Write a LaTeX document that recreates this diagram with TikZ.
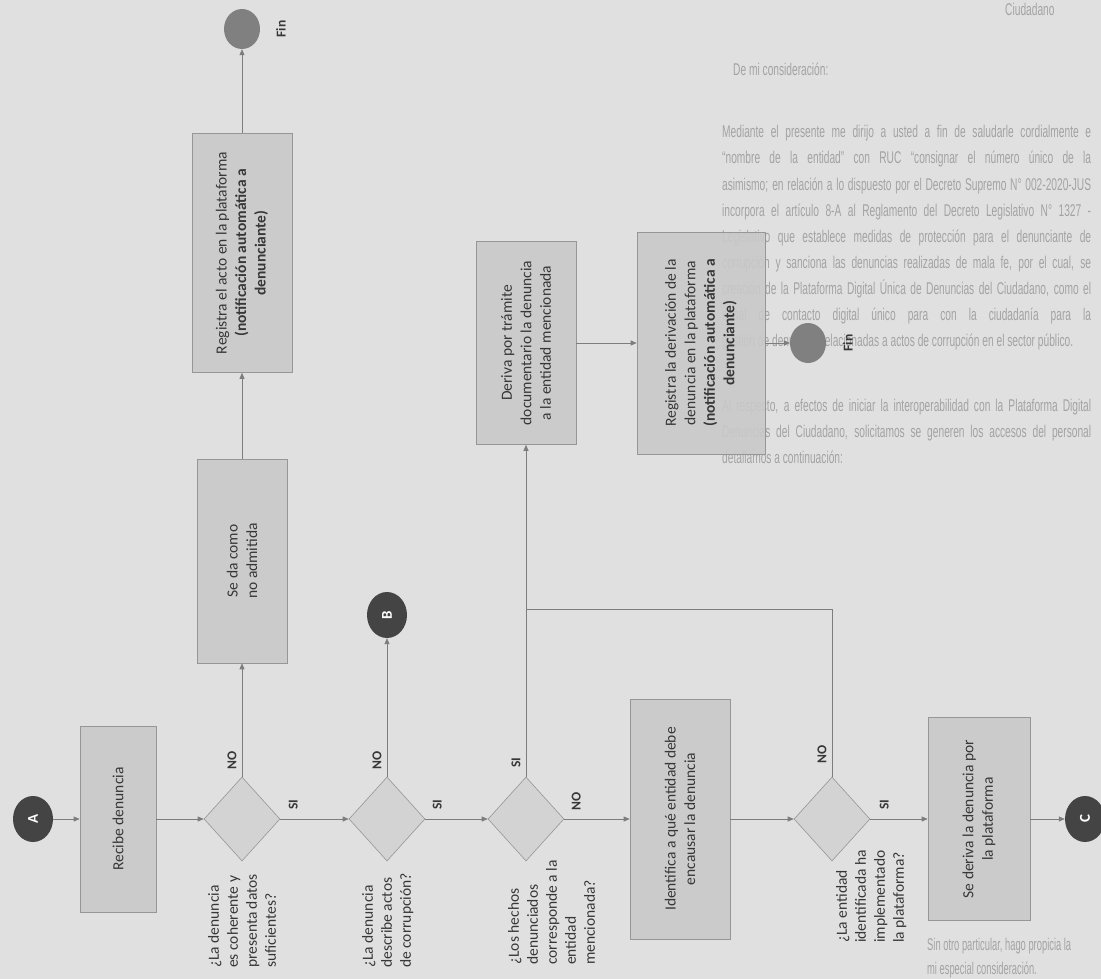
\documentclass[tikz,border=0pt]{standalone}
\usepackage{fontspec}
\setmainfont{Carlito}
\newfontfamily\bgfont{Liberation Sans}
\usetikzlibrary{shapes.geometric,arrows.meta}
\definecolor{paper}{RGB}{224,224,224}
\definecolor{boxfill}{RGB}{201,201,201}
\definecolor{diafill}{RGB}{210,210,210}
\definecolor{edge}{RGB}{150,150,150}
\definecolor{ink}{RGB}{55,55,55}
\definecolor{conn}{RGB}{125,125,125}
\definecolor{dark}{RGB}{68,68,68}
\definecolor{fingray}{RGB}{128,128,128}
\definecolor{bgtext}{RGB}{163,163,163}
\newcommand{\jline}[1]{\scalebox{0.6}[1]{\makebox[615pt][s]{#1}}}
\newcommand{\nline}[1]{\scalebox{0.6}[1]{#1}}
\begin{document}
\begin{tikzpicture}[x=1pt,y=-1pt,
  proc/.style={rectangle, draw=edge, fill=boxfill, fill opacity=0.9, text opacity=1, line width=0.6pt, rotate=90, align=center, text=ink, font=\fontsize{15.5}{19.5}\selectfont, inner sep=2pt},
  dec/.style={diamond, draw=edge, fill=diafill, fill opacity=0.9, line width=0.6pt, minimum width=76pt, minimum height=84pt, inner sep=0pt},
  letter/.style={ellipse, fill=dark, text=white, font=\bfseries\fontsize{15}{15}\selectfont, rotate=90, minimum width=46pt, minimum height=40pt, inner sep=0pt},
  finnode/.style={ellipse, fill=fingray, minimum width=36pt, minimum height=40pt, inner sep=0pt},
  lbl/.style={rotate=90, font=\bfseries\fontsize{13.5}{14}\selectfont, text=ink, inner sep=0pt},
  qtext/.style={rotate=90, align=left, anchor=north west, font=\fontsize{15.5}{19}\selectfont, text=ink, inner sep=0pt},
  arr/.style={draw=conn, line width=0.7pt, -{Triangle[length=6pt,width=5pt]}},
  plain/.style={draw=conn, line width=0.7pt},
  bg/.style={anchor=base west, inner sep=0pt, text=bgtext, font=\bgfont\fontsize{17}{20}\selectfont}
]
\useasboundingbox (0,0) rectangle (1101,979);
\fill[paper] (0,0) rectangle (1101,979);
\clip (0,0) rectangle (1101,979);

% faint letter text showing through the scan
\node[bg] (t1) at (1005,16) {\nline{Ciudadano}};
\node[bg] (t2) at (733,76) {\nline{De mi consideración:}};
\node[bg] (t3) at (722,138) {\jline{Mediante el presente me dirijo a usted a fin de saludarle cordialmente e}};
\node[bg] (t4) at (722,164) {\jline{“nombre de la entidad” con RUC “consignar el número único de la}};
\node[bg] (t5) at (722,190) {\jline{asimismo; en relación a lo dispuesto por el Decreto Supremo N° 002-2020-JUS}};
\node[bg] (t6) at (722,216) {\jline{incorpora el artículo 8-A al Reglamento del Decreto Legislativo N° 1327 -}};
\node[bg] (t7) at (722,242) {\jline{Legislativo que establece medidas de protección para el denunciante de}};
\node[bg] (t8) at (722,268) {\jline{corrupción y sanciona las denuncias realizadas de mala fe, por el cual, se}};
\node[bg] (t9) at (722,294) {\jline{creación de la Plataforma Digital Única de Denuncias del Ciudadano, como el}};
\node[bg] (t10) at (722,320) {\jline{canal de contacto digital único para con la ciudadanía para la}};
\node[bg] (t11) at (722,346) {\nline{gestión de denuncias relacionadas a actos de corrupción en el sector público.}};
\node[bg] (t12) at (722,411) {\jline{Al respecto, a efectos de iniciar la interoperabilidad con la Plataforma Digital}};
\node[bg] (t13) at (722,437) {\jline{Denuncias del Ciudadano, solicitamos se generen los accesos del personal}};
\node[bg] (t14) at (722,463) {\nline{detallamos a continuación:}};
\node[bg] (t15) at (927,950) {\scalebox{0.55}[1]{Sin otro particular, hago propicia la}};
\node[bg] (t16) at (927,974) {\scalebox{0.55}[1]{mi especial consideración.}};

% process boxes
\node[proc, minimum width=186pt, minimum height=76pt] (recibe) at (118,819) {Recibe denuncia};
\node[proc, minimum width=204pt, minimum height=90pt] (noadm) at (242,561) {Se da como\\no admitida};
\node[proc, minimum width=239pt, minimum height=100pt] (reg1) at (242,253) {Registra el acto en la plataforma\\\textbf{(notificación automática a}\\\textbf{denunciante)}};
\node[proc, minimum width=203pt, minimum height=100pt] (deriva) at (526,343) {Deriva por trámite\\documentario la denuncia\\a la entidad mencionada};
\node[proc, minimum width=222pt, minimum height=128pt] (reg2) at (701,343) {Registra la derivación de la\\denuncia en la plataforma\\\textbf{(notificación automática a}\\\textbf{denunciante)}};
\node[proc, minimum width=240pt, minimum height=100pt] (ident) at (680,819) {Identifica a qué entidad debe\\encausar la denuncia};
\node[proc, minimum width=203pt, minimum height=102pt] (sederiva) at (979,819) {Se deriva la denuncia por\\la plataforma};

% decisions
\node[dec] (d1) at (242,819) {};
\node[dec] (d2) at (387,819) {};
\node[dec] (d3) at (526,819) {};
\node[dec] (d4) at (832,819) {};

\node[qtext] (q1) at (208,968) {¿La denuncia\\es coherente y\\presenta datos\\suficientes?};
\node[qtext] (q2) at (362,968) {¿La denuncia\\describe actos\\de corrupción?};
\node[qtext] (q3) at (508,965) {¿Los hechos\\denunciados\\corresponde a la\\entidad\\mencionada?};
\node[qtext] (q4) at (836,943) {¿La entidad\\identificada ha\\implementado\\la plataforma?};

% connector circles
\node[letter] (A) at (33,819) {A};
\node[letter] (B) at (387,615) {B};
\node[letter] (C) at (1085,819) {C};
\node[finnode] (fin1) at (242,29) {};
\node[finnode] (fin2) at (808,343) {};
\node[lbl] (fl1) at (281,29) {Fin};
\node[lbl] (fl2) at (848,343) {Fin};

% main flow
\draw[arr] (A.south) -- (recibe.north);
\draw[arr] (recibe.south) -- (d1.west);
\draw[arr] (d1.east) -- (d2.west);
\draw[arr] (d2.east) -- (d3.west);
\draw[arr] (d3.east) -- (ident.north);
\draw[arr] (ident.south) -- (d4.west);
\draw[arr] (d4.east) -- (sederiva.north);
\draw[arr] (sederiva.south) -- (C.north);

% upward branches
\draw[arr] (d1.north) -- (noadm.west);
\draw[arr] (noadm.east) -- (reg1.west);
\draw[arr] (reg1.east) -- (fin1.south);
\draw[arr] (d2.north) -- (B.west);
\coordinate (j) at (526,609);
\draw[arr] (d3.north) -- (deriva.west);
\draw[plain] (d4.north) |- (j);
\draw[arr] (deriva.south) -- (reg2.north);
\draw[arr] (reg2.south) -- (fin2.west);

% branch labels
\node[lbl] (s1) at ([shift={(13,-14)}]d1.east) {SI};
\node[lbl] (n1) at ([shift={(-10,-16)}]d1.north) {NO};
\node[lbl] (s2) at ([shift={(12,-14)}]d2.east) {SI};
\node[lbl] (n2) at ([shift={(-10,-16)}]d2.north) {NO};
\node[lbl] (s3) at ([shift={(-10,-14)}]d3.north) {SI};
\node[lbl] (n3) at ([shift={(12,-18)}]d3.east) {NO};
\node[lbl] (n4) at ([shift={(-10,-22)}]d4.north) {NO};
\node[lbl] (s4) at ([shift={(14,-14)}]d4.east) {SI};
\end{tikzpicture}
\end{document}
